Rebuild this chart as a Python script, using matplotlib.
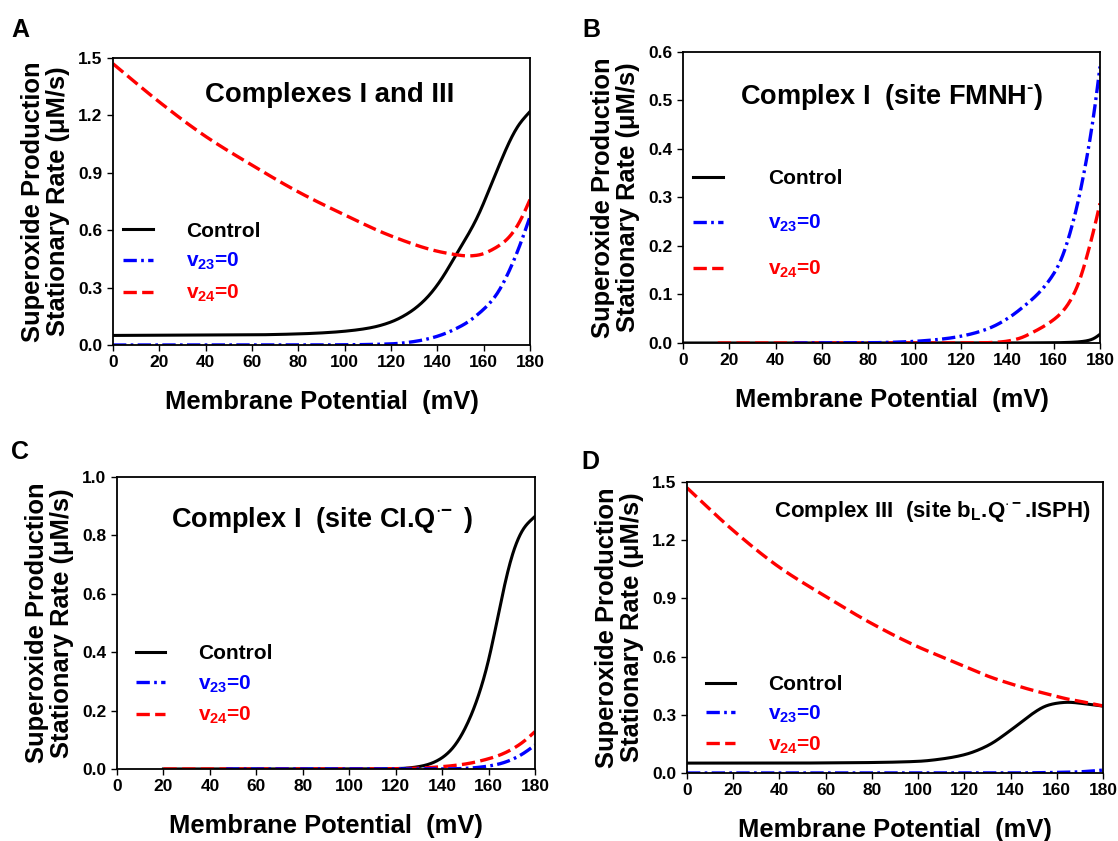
import matplotlib
matplotlib.use("Agg")
import matplotlib.pyplot as plt
import numpy as np

plt.rcParams['font.family'] = ['Liberation Sans', 'DejaVu Sans']
plt.rcParams['font.weight'] = 'bold'
plt.rcParams['mathtext.fontset'] = 'custom'
plt.rcParams['mathtext.rm'] = 'Liberation Sans:bold'
plt.rcParams['mathtext.bf'] = 'Liberation Sans:bold'
plt.rcParams['mathtext.it'] = 'Liberation Sans:bold'
plt.rcParams['mathtext.default'] = 'bf'

# ---- data (mV, uM/s) ----
# panel A: complexes I and III
a_x = [0, 20, 40, 60, 80, 94, 104, 112, 120, 128, 135, 141, 148, 157, 165, 171, 175, 180]
a_ctrl = [0.050, 0.051, 0.052, 0.053, 0.058, 0.066, 0.077, 0.092, 0.12, 0.17, 0.24, 0.33, 0.47, 0.66, 0.89, 1.06, 1.15, 1.22]
a_v23_x = [0, 40, 80, 100, 112, 122, 130, 137, 143, 148, 153, 157, 162, 166, 170, 175, 180]
a_v23 = [0.0, 0.0, 0.0, 0.001, 0.003, 0.007, 0.018, 0.035, 0.058, 0.085, 0.118, 0.155, 0.21, 0.27, 0.36, 0.50, 0.67]
a_v24_x = [0, 20, 40, 60, 80, 100, 120, 140, 148, 153, 158, 164, 170, 175, 180]
a_v24 = [1.47, 1.27, 1.09, 0.94, 0.80, 0.68, 0.57, 0.49, 0.472, 0.465, 0.47, 0.50, 0.55, 0.63, 0.76]

# panel B: complex I site FMNH-
b_ctrl_x = [0, 40, 80, 120, 160, 170, 175, 178, 180]
b_ctrl = [0.0, 0.0, 0.0, 0.0, 0.0005, 0.002, 0.005, 0.010, 0.018]
b_v23_x = [48, 80, 94, 105, 115, 123, 132, 140, 147, 154, 159, 163, 167, 171, 175, 178, 180]
b_v23 = [0.0, 0.0005, 0.002, 0.005, 0.010, 0.017, 0.030, 0.050, 0.075, 0.105, 0.135, 0.168, 0.225, 0.30, 0.40, 0.49, 0.57]
b_v24_x = [15, 60, 100, 130, 137, 145, 151, 157, 163, 167, 171, 175, 178, 180]
b_v24 = [0.0, 0.0, 0.0, 0.0005, 0.002, 0.009, 0.022, 0.038, 0.06, 0.085, 0.125, 0.19, 0.245, 0.288]

# panel C: complex I site CI.Q.-
c_x = [20, 60, 100, 115, 123, 130, 135, 140, 145, 150, 155, 160, 165, 170, 175, 180]
c_ctrl = [0.0, 0.0, 0.0, 0.0005, 0.002, 0.008, 0.018, 0.038, 0.075, 0.14, 0.235, 0.37, 0.56, 0.73, 0.825, 0.865]
c_v24_x = [20, 60, 100, 120, 130, 140, 150, 160, 165, 170, 175, 180]
c_v24 = [0.0, 0.0, 0.0, 0.001, 0.003, 0.008, 0.017, 0.035, 0.048, 0.067, 0.093, 0.128]
c_v23_x = [47, 100, 140, 150, 155, 160, 165, 170, 175, 180]
c_v23 = [0.0, 0.0, 0.0, 0.002, 0.005, 0.010, 0.018, 0.032, 0.053, 0.082]

# panel D: complex III site bL.Q.-.ISPH
d_x = [0, 20, 40, 60, 80, 100, 110, 120, 130, 140, 150, 155, 160, 165, 170, 175, 180]
d_ctrl = [0.051, 0.051, 0.051, 0.052, 0.054, 0.06, 0.072, 0.094, 0.14, 0.22, 0.31, 0.345, 0.36, 0.365, 0.36, 0.352, 0.345]
d_v23 = [0.0, 0.0, 0.0, 0.0, 0.0, 0.0, 0.0, 0.0, 0.0, 0.0, 0.001, 0.002, 0.003, 0.004, 0.006, 0.010, 0.015]
d_v24 = [1.47, 1.25, 1.06, 0.91, 0.77, 0.65, 0.60, 0.55, 0.50, 0.46, 0.425, 0.41, 0.395, 0.38, 0.37, 0.357, 0.346]

labels = ['Control', 'v$_{23}$=0', 'v$_{24}$=0']
colors = ['black', '#0000ff', '#ff0000']
styles = ['-', (0, (4.0, 1.3, 0.8, 1.3)), (0, (4.0, 1.6))]


def pchip(x, y, n=600):
    # monotone cubic through the read points, then a light running mean
    x = np.asarray(x, float)
    y = np.asarray(y, float)
    h = np.diff(x)
    d = np.diff(y) / h
    m = np.zeros_like(y)
    for k in range(1, len(x) - 1):
        if d[k - 1] * d[k] > 0:
            w1 = 2 * h[k] + h[k - 1]
            w2 = h[k] + 2 * h[k - 1]
            m[k] = (w1 + w2) / (w1 / d[k - 1] + w2 / d[k])
    m[0] = d[0]
    m[-1] = d[-1]
    xs = np.linspace(x[0], x[-1], n)
    idx = np.clip(np.searchsorted(x, xs) - 1, 0, len(x) - 2)
    t = (xs - x[idx]) / h[idx]
    h00 = 2 * t**3 - 3 * t**2 + 1
    h10 = t**3 - 2 * t**2 + t
    h01 = -2 * t**3 + 3 * t**2
    h11 = t**3 - t**2
    ys = h00 * y[idx] + h10 * h[idx] * m[idx] + h01 * y[idx + 1] + h11 * h[idx] * m[idx + 1]
    k = max(3, int(n * 5.0 / (x[-1] - x[0])) | 1)
    pad = np.pad(ys, k // 2, mode='reflect', reflect_type='odd')
    ys = np.convolve(pad, np.ones(k) / k, mode='valid')
    return xs, ys


fig = plt.figure(figsize=(11.18, 8.41), dpi=100)
W, H = 1118.0, 841.0
# axes boxes in pixels: left, top, right, bottom
boxes = [(113, 58, 530, 345), (683, 52, 1100, 343), (117, 477, 535, 769), (687, 482, 1103, 773)]
yticks = [[0, 0.3, 0.6, 0.9, 1.2, 1.5],
          [0, 0.1, 0.2, 0.3, 0.4, 0.5, 0.6],
          [0, 0.2, 0.4, 0.6, 0.8, 1.0],
          [0, 0.3, 0.6, 0.9, 1.2, 1.5]]
titles = ['Complexes I and III', r'Complex I  (site FMNH$^{\text{-}}$)',
          r'Complex I  (site CI.Q$^{\cdot\!-}$ )', r'Complex III  (site b$_{L}$.Q$^{\cdot-}$.ISPH)']
title_pos = [(0.52, 0.87, 19.8), (0.50, 0.845, 19.5), (0.49, 0.853, 19.5), (0.59, 0.90, 16)]
letters = ['A', 'B', 'C', 'D']
letter_pos = [(11, 30), (582, 30), (11, 452), (581, 462)]
legend_pos = [(-0.02, 0.495, 1.0), (-0.02, 0.663, 1.6), (0.0, 0.493, 1.0), (0.0, 0.40, 1.0)]
legend_gap = [0.5, 1.2, 0.5, 0.45]

series = [
    [(a_x, a_ctrl), (a_v23_x, a_v23), (a_v24_x, a_v24)],
    [(b_ctrl_x, b_ctrl), (b_v23_x, b_v23), (b_v24_x, b_v24)],
    [(c_x, c_ctrl), (c_v23_x, c_v23), (c_v24_x, c_v24)],
    [(d_x, d_ctrl), (d_x, d_v23), (d_x, d_v24)],
]
# drawing order: control first, then red, then blue on top (as in the figure)
order = [0, 2, 1]

for i in range(4):
    l, t, r, b = boxes[i]
    ax = fig.add_axes([l / W, 1 - b / H, (r - l) / W, (b - t) / H])
    handles = [None, None, None]
    for j in order:
        x, y = series[i][j]
        xs, ys = pchip(x, y)
        ys = np.clip(ys, 0, None)
        lw = 2.4 if j != 0 else 2.2
        h, = ax.plot(xs, ys, color=colors[j], linestyle=styles[j], lw=lw, label=labels[j])
        handles[j] = h
    yt = yticks[i]
    ax.set_xlim(0, 180)
    ax.set_ylim(0, yt[-1])
    ax.set_xticks(range(0, 181, 20))
    ax.set_yticks(yt)
    ax.set_yticklabels(['%.1f' % v for v in yt])
    ax.tick_params(direction='out', length=4, width=1, labelsize=12.5, top=False, right=False)
    for s in ax.spines.values():
        s.set_linewidth(1.3)
    ax.set_xlabel('Membrane Potential  (mV)', fontsize=18.4, fontweight='bold', labelpad=14)
    ax.set_ylabel('Superoxide Production\nStationary Rate (\u03bcM/s)', fontsize=18.4,
                  fontweight='bold', labelpad=6, linespacing=1.05)
    tx, ty, tfs = title_pos[i]
    ax.text(tx, ty, titles[i], transform=ax.transAxes, ha='center', va='center',
            fontsize=tfs, fontweight='bold')
    lx, ly, tp = legend_pos[i]
    leg = ax.legend(handles, labels, loc='upper left', bbox_to_anchor=(lx, ly), frameon=False,
                    fontsize=15, handlelength=1.4, handletextpad=0.6 + tp,
                    labelspacing=legend_gap[i])
    for txt, c in zip(leg.get_texts(), colors):
        txt.set_color(c)
        txt.set_fontweight('bold')
    px, py = letter_pos[i]
    fig.text(px / W, 1 - py / H, letters[i], fontsize=18, fontweight='bold', va='center')

fig.savefig('out.png', dpi=100)
